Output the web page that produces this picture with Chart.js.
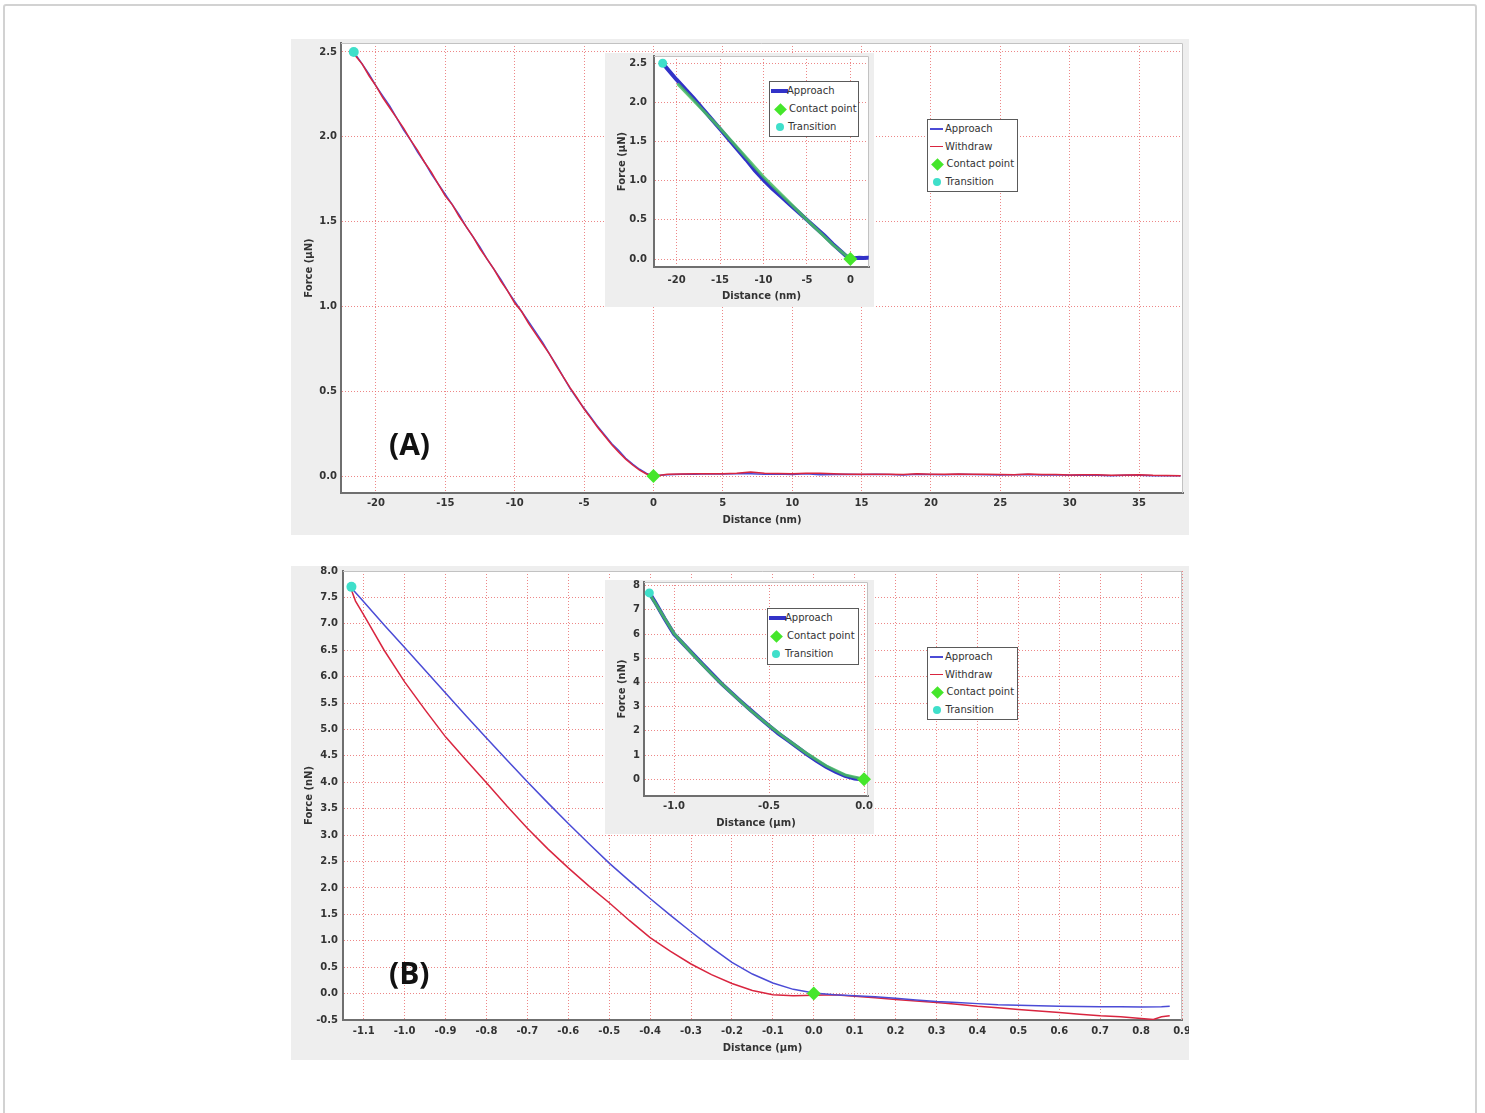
<!DOCTYPE html>
<html><head><meta charset="utf-8">
<script src="https://cdn.jsdelivr.net/npm/chart.js@4.4.1/dist/chart.umd.min.js"></script>
<style>
html,body{margin:0;padding:0;background:#fff;width:1485px;height:1113px;overflow:hidden;}
#frame{position:absolute;left:3px;top:4px;width:1470px;height:1200px;border:2px solid #d2d2d2;border-radius:3px;}
canvas{position:absolute;display:block;}
.legend{position:absolute;box-sizing:border-box;background:#fff;border:1px solid #5a5a5a;font-family:'DejaVu Sans',sans-serif;font-size:10px;color:#333;z-index:5;}
.row{position:absolute;left:0;right:0;height:12px;line-height:12px;}
.row span{position:absolute;white-space:nowrap;top:0;}
.ln{position:absolute;}
.dia{position:absolute;width:9px;height:9px;transform:rotate(45deg);background:#45e62b;}
.dot{position:absolute;width:8px;height:8px;border-radius:50%;background:#3fdfca;}
.plabel{position:absolute;font-family:'Open Sans',sans-serif;font-weight:700;font-size:30px;line-height:30px;color:#111;z-index:5;}
</style></head><body>
<div id="frame"></div>
<canvas id="cA" width="898" height="496" style="left:291px;top:39px;"></canvas>
<canvas id="cB" width="898" height="494" style="left:291px;top:566px;"></canvas>
<canvas id="cIA" width="269" height="254" style="left:605px;top:53px;z-index:2;"></canvas>
<canvas id="cIB" width="269" height="254" style="left:605px;top:580px;z-index:2;"></canvas>

<div class="plabel" style="left:389px;top:429px;">(A)</div>
<div class="plabel" style="left:389px;top:958px;">(B)</div>

<!-- main legend A -->
<div class="legend" style="left:927px;top:119px;width:91px;height:73px;">
  <div class="row" style="top:3px;"><div class="ln" style="left:2px;width:13px;top:5px;height:1.5px;background:#4b4bd6;"></div><span style="left:17px;">Approach</span></div>
  <div class="row" style="top:20.7px;"><div class="ln" style="left:2px;width:13px;top:5px;height:1.5px;background:#d9253f;"></div><span style="left:17px;">Withdraw</span></div>
  <div class="row" style="top:38px;"><div class="dia" style="left:4.5px;top:1.5px;"></div><span style="left:18.5px;">Contact point</span></div>
  <div class="row" style="top:55.7px;"><div class="dot" style="left:5px;top:2px;"></div><span style="left:17.5px;">Transition</span></div>
</div>
<!-- main legend B -->
<div class="legend" style="left:927px;top:647px;width:91px;height:73px;">
  <div class="row" style="top:3px;"><div class="ln" style="left:2px;width:13px;top:5px;height:1.5px;background:#4b4bd6;"></div><span style="left:17px;">Approach</span></div>
  <div class="row" style="top:20.5px;"><div class="ln" style="left:2px;width:13px;top:5px;height:1.5px;background:#d9253f;"></div><span style="left:17px;">Withdraw</span></div>
  <div class="row" style="top:38px;"><div class="dia" style="left:4.5px;top:1.5px;"></div><span style="left:18.5px;">Contact point</span></div>
  <div class="row" style="top:55.5px;"><div class="dot" style="left:5px;top:2px;"></div><span style="left:17.5px;">Transition</span></div>
</div>
<!-- inset legend A -->
<div class="legend" style="left:769px;top:81px;width:90px;height:56px;">
  <div class="row" style="top:3px;"><div class="ln" style="left:1px;width:17px;top:4px;height:4px;background:#3232c8;"></div><span style="left:17px;">Approach</span></div>
  <div class="row" style="top:21.3px;"><div class="dia" style="left:5.5px;top:1.5px;"></div><span style="left:19px;">Contact point</span></div>
  <div class="row" style="top:38.7px;"><div class="dot" style="left:6px;top:2px;"></div><span style="left:18px;">Transition</span></div>
</div>
<!-- inset legend B -->
<div class="legend" style="left:767px;top:608px;width:92px;height:57px;">
  <div class="row" style="top:3px;"><div class="ln" style="left:1px;width:17px;top:4px;height:4px;background:#3232c8;"></div><span style="left:17px;">Approach</span></div>
  <div class="row" style="top:21.4px;"><div class="dia" style="left:3.5px;top:1.5px;"></div><span style="left:19px;">Contact point</span></div>
  <div class="row" style="top:39px;"><div class="dot" style="left:4px;top:2px;"></div><span style="left:17px;">Transition</span></div>
</div>

<script>
// ---------------- DATA ----------------
// Panel A (distance nm, force µN)
const aApproachDist = [-21.6,-21,-20.5,-20,-19.5,-19,-18.5,-18,-17.5,-17,-16.5,-16,-15.5,-15,-14.5,-14,-13.5,-13,-12.5,-12,-11.5,-11,-10.5,-10,-9.5,-9,-8.5,-8,-7.5,-7,-6.5,-6,-5.5,-5,-4.5,-4,-3.5,-3,-2.5,-2,-1.5,-1,-0.5,0,
  0.5,1,2,3,4,5,6,7,8,9,10,11,12,13,14,15,16,17,18,19,20,21,22,23,24,25,26,27,28,29,30,31,32,33,34,35,36,37,38];
const aApproachForce = [2.50,2.43,2.37,2.30,2.24,2.18,2.11,2.04,1.98,1.91,1.85,1.78,1.72,1.66,1.60,1.54,1.47,1.41,1.35,1.28,1.22,1.16,1.09,1.03,0.97,0.91,0.85,0.79,0.72,0.655,0.585,0.515,0.455,0.40,0.345,0.29,0.24,0.19,0.15,0.105,0.07,0.04,0.015,0.0,
  0.004,0.008,0.010,0.011,0.013,0.012,0.013,0.014,0.010,0.012,0.009,0.013,0.008,0.009,0.011,0.009,0.010,0.009,0.006,0.011,0.009,0.008,0.010,0.009,0.008,0.006,0.007,0.009,0.006,0.007,0.004,0.006,0.004,0.002,0.004,0.005,0.002,0.001,0.002];
const aWithdrawDist = [-21.6,-21,-20.5,-20,-19.5,-19,-18.5,-18,-17.5,-17,-16.5,-16,-15.5,-15,-14.5,-14,-13.5,-13,-12.5,-12,-11.5,-11,-10.5,-10,-9.5,-9,-8.5,-8,-7.5,-7,-6.5,-6,-5.5,-5,-4.5,-4,-3.5,-3,-2.5,-2,-1.5,-1,-0.5,0,
  0.5,1,2,3,4,5,6,7,8,9,10,11,12,13,14,15,16,17,18,19,20,21,22,23,24,25,26,27,28,29,30,31,32,33,34,35,36,37,38];
const aWithdrawForce = [2.49,2.43,2.36,2.30,2.23,2.17,2.11,2.05,1.98,1.92,1.85,1.79,1.72,1.65,1.60,1.53,1.47,1.41,1.34,1.28,1.22,1.15,1.09,1.02,0.97,0.90,0.84,0.78,0.72,0.65,0.585,0.52,0.46,0.395,0.34,0.285,0.235,0.185,0.14,0.10,0.065,0.035,0.012,0.0,
  0.005,0.010,0.012,0.013,0.013,0.014,0.016,0.024,0.017,0.015,0.013,0.016,0.017,0.014,0.011,0.011,0.010,0.011,0.009,0.013,0.010,0.011,0.012,0.010,0.011,0.009,0.008,0.012,0.009,0.009,0.006,0.007,0.008,0.005,0.006,0.008,0.004,0.003,0.002];
const aContactDist = [0], aContactForce = [0];
const aTransitionDist = [-21.6], aTransitionForce = [2.5];
const aXTicks = [-20,-15,-10,-5,0,5,10,15,20,25,30,35];
const aYTicks = [0,0.5,1.0,1.5,2.0,2.5];

// Inset A
const iaApproachDist = [-21.6,-21,-20,-19,-18,-17,-16,-15,-14,-13,-12,-11,-10,-9,-8,-7,-6,-5,-4,-3,-2,-1,-0.5,0,0.5,1,1.5,2,2.1];
const iaApproachForce = [2.50,2.42,2.29,2.17,2.05,1.92,1.79,1.66,1.53,1.40,1.27,1.13,1.01,0.90,0.80,0.70,0.60,0.50,0.40,0.30,0.19,0.09,0.04,0.0,0.01,0.015,0.012,0.016,0.015];
const iaFitDist = [-19.9,-15,-10,-5,-2,0];
const iaFitForce = [2.24,1.67,1.05,0.50,0.18,0.0];
const iaContactDist = [0], iaContactForce = [0];
const iaTransitionDist = [-21.6], iaTransitionForce = [2.5];
const iaXTicks = [-20,-15,-10,-5,0];
const iaYTicks = [0,0.5,1.0,1.5,2.0,2.5];

// Panel B (distance µm, force nN)
const bApproachDist = [-1.13,-1.10,-1.05,-1.00,-0.95,-0.90,-0.85,-0.80,-0.75,-0.70,-0.65,-0.60,-0.55,-0.50,-0.45,-0.40,-0.35,-0.30,-0.25,-0.20,-0.15,-0.10,-0.05,0.00,
  0.05,0.10,0.15,0.20,0.25,0.30,0.35,0.40,0.45,0.50,0.55,0.60,0.65,0.70,0.75,0.80,0.85,0.87];
const bApproachForce = [7.68,7.42,6.98,6.55,6.12,5.69,5.26,4.84,4.42,4.01,3.61,3.22,2.84,2.47,2.13,1.80,1.48,1.17,0.87,0.59,0.37,0.20,0.08,0.01,
  -0.02,-0.04,-0.06,-0.09,-0.12,-0.15,-0.17,-0.19,-0.21,-0.22,-0.23,-0.24,-0.245,-0.25,-0.25,-0.255,-0.25,-0.24];
const bWithdrawDist = [-1.13,-1.12,-1.10,-1.05,-1.00,-0.95,-0.90,-0.85,-0.80,-0.75,-0.70,-0.65,-0.60,-0.55,-0.50,-0.45,-0.40,-0.35,-0.30,-0.25,-0.20,-0.15,-0.10,-0.05,0.00,
  0.05,0.10,0.15,0.20,0.25,0.30,0.35,0.40,0.45,0.50,0.55,0.60,0.65,0.70,0.75,0.80,0.83,0.85,0.87];
const bWithdrawForce = [7.64,7.43,7.17,6.50,5.90,5.37,4.86,4.42,3.99,3.55,3.13,2.74,2.38,2.04,1.72,1.38,1.06,0.80,0.56,0.36,0.19,0.06,-0.02,-0.04,-0.03,
  -0.02,-0.05,-0.08,-0.11,-0.14,-0.17,-0.20,-0.24,-0.27,-0.30,-0.33,-0.36,-0.39,-0.42,-0.44,-0.47,-0.49,-0.44,-0.42];
const bContactDist = [0], bContactForce = [0];
const bTransitionDist = [-1.13], bTransitionForce = [7.7];
const bXTicks = [-1.1,-1.0,-0.9,-0.8,-0.7,-0.6,-0.5,-0.4,-0.3,-0.2,-0.1,0.0,0.1,0.2,0.3,0.4,0.5,0.6,0.7,0.8,0.9];
const bYTicks = [-0.5,0,0.5,1.0,1.5,2.0,2.5,3.0,3.5,4.0,4.5,5.0,5.5,6.0,6.5,7.0,7.5,8.0];

// Inset B
const ibApproachDist = [-1.13,-1.10,-1.05,-1.00,-0.95,-0.90,-0.85,-0.80,-0.75,-0.70,-0.65,-0.60,-0.55,-0.50,-0.45,-0.40,-0.35,-0.30,-0.25,-0.20,-0.15,-0.10,-0.05,0.00];
const ibApproachForce = [7.70,7.32,6.64,6.00,5.58,5.17,4.76,4.35,3.95,3.59,3.23,2.88,2.54,2.21,1.89,1.61,1.32,1.03,0.76,0.52,0.31,0.14,0.03,-0.01];
const ibFitDist = [-1.12,-1.0,-0.9,-0.8,-0.7,-0.6,-0.5,-0.4,-0.3,-0.2,-0.1,0];
const ibFitForce = [7.55,6.02,5.15,4.33,3.58,2.87,2.22,1.62,1.06,0.56,0.18,0.0];
const ibContactDist = [0], ibContactForce = [0];
const ibTransitionDist = [-1.13], ibTransitionForce = [7.7];
const ibXTicks = [-1.0,-0.5,0.0];
const ibYTicks = [0,1,2,3,4,5,6,7,8];

// ---------------- STYLE ----------------
const GRID = 'rgba(232,105,105,0.8)';
const AXIS = '#6f6f6f';
const TXT = '#333333';
const BLUE = '#4b4bd6', RED = '#d9253f', BLUE_I = '#3232c8', GREEN_I = 'rgba(70,190,95,0.85)';
const GREEN = '#45e62b', CYAN = '#3fdfca';
const FONT_T = {family:"'DejaVu Sans', sans-serif", size:10, weight:'bold'};
const FONT_Y = {family:"'DejaVu Sans', sans-serif", size:10, weight:'bold', lineHeight:0.3};

function pts(xs, ys){ return xs.map((x,i)=>({x:x, y:ys[i]})); }

const bgPlugin = {
  id:'bgPlugin',
  beforeDraw(chart){
    const {ctx, chartArea:a, width, height} = chart;
    ctx.save();
    ctx.fillStyle = '#eeeeee'; ctx.fillRect(0,0,width,height);
    ctx.fillStyle = '#ffffff'; ctx.fillRect(a.left, a.top, a.right-a.left, a.bottom-a.top);
    ctx.restore();
  },
  beforeDatasetsDraw(chart){
    const {ctx, chartArea:a} = chart;
    ctx.save();
    ctx.strokeStyle = '#c2c2c2'; ctx.lineWidth = 1;
    ctx.beginPath();
    ctx.moveTo(a.left, a.top+0.5); ctx.lineTo(a.right-0.5, a.top+0.5); ctx.lineTo(a.right-0.5, a.bottom);
    ctx.stroke();
    ctx.restore();
  }
};

function lineDs(label, xs, ys, color, width, order){
  return {label, data:pts(xs,ys), showLine:true, borderColor:color, backgroundColor:color, borderWidth:width, pointRadius:0, order, tension:0};
}
function markDs(label, xs, ys, style, r, color){
  return {label, data:pts(xs,ys), showLine:false, pointStyle:style, pointRadius:r, backgroundColor:color, borderColor:color, borderWidth:0, order:0, clip:false};
}

function build(id, o){
  return new Chart(document.getElementById(id), {
    type:'scatter',
    data:{datasets:o.datasets},
    options:{
      responsive:false, animation:false, events:[],
      layout:{autoPadding:false, padding:{top:o.padTop, right:o.padRight, left:0, bottom:0}},
      plugins:{legend:{display:false}, tooltip:{enabled:false}},
      scales:{
        x:{type:'linear', position:'bottom', min:o.xMin, max:o.xMax,
          afterFit(s){ s.height=o.xH; s.paddingLeft=0; s.paddingRight=0; },
          afterBuildTicks(s){ s.ticks=o.xTicks.map(v=>({value:v})); },
          grid:{color:GRID, lineWidth:1, drawTicks:false},
          border:{display:true, color:AXIS, width:2, dash:[1,2]},
          ticks:{padding:o.xPad, font:FONT_T, color:TXT, maxRotation:0, minRotation:0, autoSkip:false, callback:v=>v.toFixed(o.xDec)},
          title:{display:true, text:o.xTitle, font:FONT_T, color:TXT, padding:{top:0, bottom:o.xTitlePad}}
        },
        y:{type:'linear', position:'left', min:o.yMin, max:o.yMax,
          afterFit(s){ s.width=o.yW; s.paddingTop=0; s.paddingBottom=0; },
          afterBuildTicks(s){ s.ticks=o.yTicks.map(v=>({value:v})); },
          grid:{color:GRID, lineWidth:1, drawTicks:false},
          border:{display:true, color:AXIS, width:2, dash:[1,2]},
          ticks:{padding:o.yPad, font:FONT_Y, color:TXT, autoSkip:false, callback:v=>v.toFixed(o.yDec)},
          title:{display:true, text:o.yTitle, font:FONT_T, color:TXT, padding:{top:o.yTitlePad, bottom:0}}
        }
      }
    },
    plugins:[bgPlugin]
  });
}

// Panel A
build('cA', {
  padTop:4, padRight:6, xH:42, yW:50,
  xMin:-22.52, xMax:38.17, yMin:-0.1, yMax:2.553,
  xTicks:aXTicks, yTicks:aYTicks, xDec:0, yDec:1, xPad:4, yPad:4,
  xTitle:'Distance (nm)', yTitle:'Force (µN)', xTitlePad:9, yTitlePad:12,
  datasets:[
    markDs('Transition', aTransitionDist, aTransitionForce, 'circle', 5, CYAN),
    markDs('Contact point', aContactDist, aContactForce, 'rectRot', 7, GREEN),
    lineDs('Withdraw', aWithdrawDist, aWithdrawForce, RED, 1.5, 1),
    lineDs('Approach', aApproachDist, aApproachForce, BLUE, 1.5, 2)
  ]
});

// Panel B
build('cB', {
  padTop:5, padRight:7, xH:40, yW:52,
  xMin:-1.1506, xMax:0.9, yMin:-0.5, yMax:8.0,
  xTicks:bXTicks, yTicks:bYTicks, xDec:1, yDec:1, xPad:5, yPad:5,
  xTitle:'Distance (µm)', yTitle:'Force (nN)', xTitlePad:6, yTitlePad:12,
  datasets:[
    markDs('Transition', bTransitionDist, bTransitionForce, 'circle', 5, CYAN),
    markDs('Contact point', bContactDist, bContactForce, 'rectRot', 7, GREEN),
    lineDs('Approach', bApproachDist, bApproachForce, BLUE, 1.5, 1),
    lineDs('Withdraw', bWithdrawDist, bWithdrawForce, RED, 1.5, 2)
  ]
});

// Inset A
build('cIA', {
  padTop:3, padRight:5, xH:40, yW:49,
  xMin:-22.6, xMax:2.14, yMin:-0.102, yMax:2.593,
  xTicks:iaXTicks, yTicks:iaYTicks, xDec:0, yDec:1, xPad:7, yPad:7,
  xTitle:'Distance (nm)', yTitle:'Force (µN)', xTitlePad:5, yTitlePad:11,
  datasets:[
    markDs('Transition', iaTransitionDist, iaTransitionForce, 'circle', 4.5, CYAN),
    markDs('Contact point', iaContactDist, iaContactForce, 'rectRot', 7, GREEN),
    lineDs('Fit', iaFitDist, iaFitForce, GREEN_I, 3, 1),
    lineDs('Approach', iaApproachDist, iaApproachForce, BLUE_I, 4, 2)
  ]
});

// Inset B
build('cIB', {
  padTop:2, padRight:6, xH:38, yW:39,
  xMin:-1.158, xMax:0.021, yMin:-0.69, yMax:8.15,
  xTicks:ibXTicks, yTicks:ibYTicks, xDec:1, yDec:0, xPad:4, yPad:4,
  xTitle:'Distance (µm)', yTitle:'Force (nN)', xTitlePad:5, yTitlePad:11,
  datasets:[
    markDs('Transition', ibTransitionDist, ibTransitionForce, 'circle', 4.5, CYAN),
    markDs('Contact point', ibContactDist, ibContactForce, 'rectRot', 7, GREEN),
    lineDs('Fit', ibFitDist, ibFitForce, GREEN_I, 3, 1),
    lineDs('Approach', ibApproachDist, ibApproachForce, BLUE_I, 4, 2)
  ]
});
</script>
</body></html>
